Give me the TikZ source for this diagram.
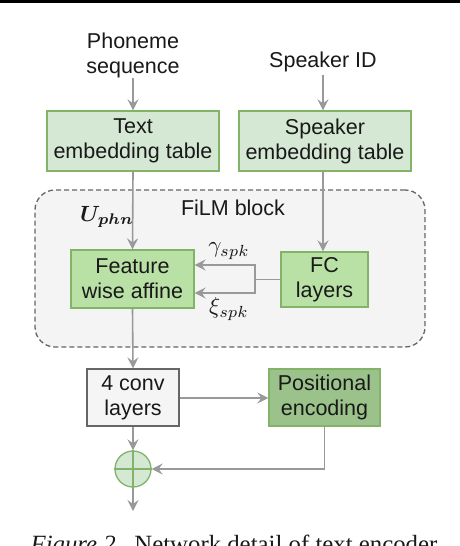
\documentclass[tikz,border=0pt]{standalone}
\usepackage{amsmath}
\usepackage{bm}
\usepackage{fontspec}
\setmainfont{Liberation Sans}
\newfontfamily\capfont{Liberation Serif}
\usetikzlibrary{arrows.meta}
\definecolor{lgreen}{HTML}{D5E8D4}
\definecolor{mgreen}{HTML}{B9E0A5}
\definecolor{dgreen}{HTML}{9AC28A}
\definecolor{gborder}{HTML}{82B366}
\definecolor{arr}{HTML}{999999}
\definecolor{filmbg}{HTML}{F4F4F4}
\definecolor{convbg}{HTML}{F5F5F5}
\definecolor{convbd}{HTML}{666666}
\begin{document}
\begin{tikzpicture}[x=1pt,y=-1pt,
  every node/.style={font=\fontsize{21.5}{25}\selectfont, align=center, text=black!90},
  boxa/.style={draw=gborder, fill=lgreen, line width=1.3pt, minimum width=172pt, minimum height=60pt, inner sep=0pt},
  boxb/.style={draw=gborder, fill=mgreen, line width=1.3pt, inner sep=0pt},
  boxc/.style={draw=gborder, fill=dgreen, line width=1.3pt, inner sep=0pt},
  conv/.style={draw=convbd, fill=convbg, line width=1.3pt, inner sep=0pt},
  flow/.style={draw=arr, line width=1.6pt, -{Stealth[length=11pt,width=11pt,inset=4pt]}},
  lbl/.style={font=\normalsize, inner sep=0pt}
]
\useasboundingbox (0,0) rectangle (460,546);
\fill[white] (0,0) rectangle (460,546);
\fill[black] (0,0) rectangle (460,3);

% FiLM block background
\node[draw=convbd, fill=filmbg, dashed, dash pattern=on 5pt off 3pt, line width=1.3pt,
  rounded corners=20pt, minimum width=390pt, minimum height=157pt, inner sep=0pt] (film) at (230,268.5) {};
\node (filmlbl) at (233,208) {FiLM block};

% inputs
\node (phon) at (133,55) {Phoneme\\sequence};
\node (spkid) at (323,62) {Speaker ID};

\node[boxa] (temb) at (133,141) {Text\\embedding table};
\node[boxa] (semb) at (325,141) {Speaker\\embedding table};

\node[boxb, minimum width=123pt, minimum height=58pt] (fwa) at (132.5,279) {Feature\\wise affine};
\node[boxb, minimum width=87pt, minimum height=55pt] (fc) at (324.5,279.5) {FC\\layers};

\node[conv, minimum width=92pt, minimum height=57pt] (conv) at (133,397.5) {4 conv\\layers};
\node[boxc, minimum width=111pt, minimum height=57pt] (pos) at (324.5,397.5) {Positional\\encoding};

\node[circle, draw=gborder, fill=lgreen, line width=1.3pt, minimum size=36pt, inner sep=0pt] (plus) at (133,469) {};
\draw[gborder, line width=1.3pt] (plus.north) -- (plus.south) (plus.west) -- (plus.east);

\coordinate (out) at (133,511);
\coordinate (split) at (255,279.5);
\coordinate (phonend) at (133,78);
\coordinate (spkend) at (323,75);

% arrows
\draw[flow] (phonend) -- (temb.north);
\draw[flow] (spkend) -- (spkend |- semb.north);
\draw[flow] (temb.south) -- (fwa.north);
\draw[flow] (spkend |- semb.south) -- (spkend |- fc.north);
\draw[draw=arr, line width=1.6pt] (fc.west) -- (split);
\draw[flow] (split) |- (fwa.east |- 0,265);
\draw[flow] (split) |- (fwa.east |- 0,293);
\draw[flow] (fwa.south) -- (conv.north);
\draw[flow] (conv.east |- 0,398) -- (pos.west |- 0,398);
\draw[flow] (conv.south) -- (plus.north);
\draw[flow] (pos.south) |- (plus.east);
\draw[flow] (plus.south) -- (out);

% labels
\node[lbl] (uphn) at (107,217) {\scalebox{2.2}{$\bm{U}_{\bm{phn}}$}};
\node[lbl] (gam) at (229,251) {\scalebox{2.3}{$\gamma_{spk}$}};
\node[lbl] (xi) at (229,309) {\scalebox{2.3}{$\xi_{spk}$}};

% caption
\node[font=\capfont\fontsize{24.8}{28}\selectfont, anchor=base] (cap) at (234,552) {\textit{Figure 2.}\ \ Network detail of text encoder};
\end{tikzpicture}
\end{document}
